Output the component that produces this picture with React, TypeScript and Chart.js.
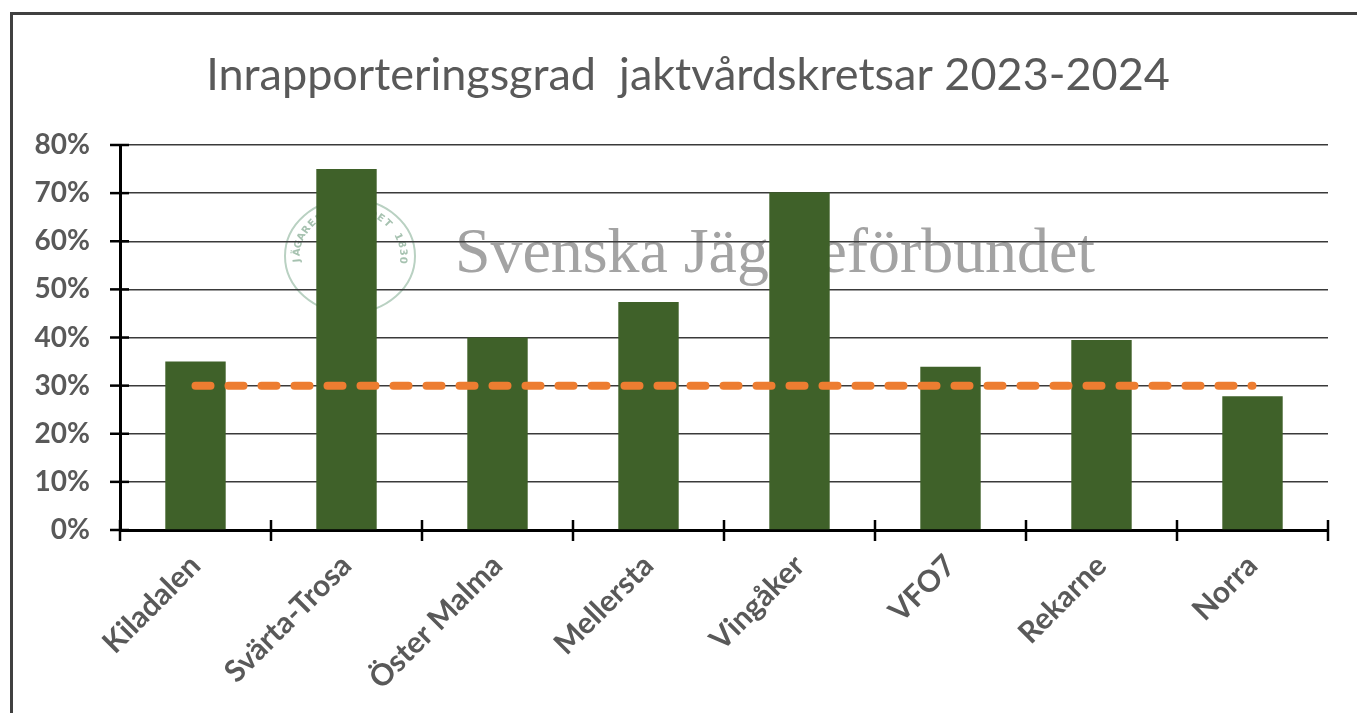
import { useEffect, useRef } from "react";
import { Chart, registerables } from "chart.js";

Chart.register(...registerables);

const categories = ["Kiladalen", "Svärta-Trosa", "Öster Malma", "Mellersta", "Vingåker", "VFO7", "Rekarne", "Norra"];
const rates = [35, 75, 40, 47.4, 70.2, 33.9, 39.5, 27.8];
const targetRate = [30, 30, 30, 30, 30, 30, 30, 30];
const yMin = 0;
const yMax = 80;
const yStep = 10;
const titleText = "Inrapporteringsgrad  jaktvårdskretsar 2023-2024";
const watermarkText = "Svenska Jägareförbundet";
const sealText = "JÄGAREFÖRBUNDET 1830";

const watermarkPlugin = {
  id: "watermark",
  beforeDraw(chart: any) {
    const ctx = chart.ctx;
    ctx.save();
    // seal
    const cx = 350, cy = 256, rx = 65, ry = 57;
    ctx.strokeStyle = "#b9d1c2";
    ctx.lineWidth = 2;
    ctx.beginPath();
    ctx.ellipse(cx, cy, rx, ry, 0, 0, Math.PI * 2);
    ctx.stroke();
    ctx.fillStyle = "#a6c2b0";
    ctx.font = "bold 10px 'DejaVu Sans'";
    ctx.textAlign = "center";
    ctx.textBaseline = "middle";
    const n = sealText.length;
    for (let i = 0; i < n; i++) {
      const a = Math.PI * 0.97 + (i / (n - 1)) * Math.PI * 1.06;
      const x = cx + (rx - 12) * Math.cos(a);
      const y = cy + (ry - 11) * Math.sin(a);
      ctx.save();
      ctx.translate(x, y);
      ctx.rotate(a + Math.PI / 2);
      ctx.fillText(sealText[i], 0, 0);
      ctx.restore();
    }
    // text
    ctx.fillStyle = "#a3a3a3";
    ctx.font = "64px 'Liberation Serif'";
    ctx.textAlign = "left";
    ctx.textBaseline = "alphabetic";
    ctx.fillText(watermarkText, 455, 272, 640);
    ctx.restore();
  },
};

const titlePlugin = {
  id: "customTitle",
  afterDraw(chart: any) {
    const ctx = chart.ctx;
    ctx.save();
    ctx.fillStyle = "#595959";
    ctx.font = "45px Lato";
    ctx.textAlign = "center";
    ctx.textBaseline = "middle";
    ctx.fillText(titleText, (48 + chart.width - 29) / 2, 75);
    ctx.restore();
  },
};

const crossTicksPlugin = {
  id: "crossTicks",
  afterDraw(chart: any) {
    const ctx = chart.ctx;
    const xs = chart.scales.x;
    const ys = chart.scales.y;
    ctx.save();
    ctx.strokeStyle = "#000";
    ctx.lineWidth = 2.5;
    ys.ticks.forEach((_t: any, i: number) => {
      const y = ys.getPixelForTick(i);
      ctx.beginPath();
      ctx.moveTo(ys.right - 10, y);
      ctx.lineTo(ys.right + 9, y);
      ctx.stroke();
    });
    for (let i = 0; i <= categories.length; i++) {
      const x = xs.getPixelForValue(i - 0.5);
      ctx.beginPath();
      ctx.moveTo(x, xs.top - 10);
      ctx.lineTo(x, xs.top + 11);
      ctx.stroke();
    }
    ctx.restore();
  },
};

export default function App() {
  const ref = useRef<HTMLCanvasElement | null>(null);
  useEffect(() => {
    if (!ref.current) return;
    const chart = new Chart(ref.current, {
      type: "bar",
      data: {
        labels: categories,
        datasets: [
          {
            type: "line",
            label: "Mål",
            data: targetRate,
            borderColor: "#ED7D31",
            backgroundColor: "#ED7D31",
            borderWidth: 8,
            borderDash: [15, 18],
            borderCapStyle: "round",
            pointRadius: 0,
            fill: false,
            tension: 0,
            order: 0,
          } as any,
          {
            type: "bar",
            label: "Inrapporteringsgrad",
            data: rates,
            backgroundColor: "#3F6129",
            barPercentage: 0.4,
            categoryPercentage: 1,
            order: 1,
          },
        ],
      },
      options: {
        animation: false,
        responsive: false,
        devicePixelRatio: 1,
        layout: { padding: { top: 145, left: 0, right: 29, bottom: 0 } },
        plugins: {
          legend: { display: false },
          tooltip: { enabled: false },
          title: { display: false },
        },
        scales: {
          x: {
            grid: { display: false, drawTicks: false },
            border: { display: true, color: "#000", width: 3 },
            ticks: {
              color: "#595959",
              font: { family: "Lato", size: 30, weight: "bold" },
              minRotation: 45,
              maxRotation: 45,
              padding: 18,
            },
            afterFit(scale: any) {
              scale.height = 183;
            },
          },
          y: {
            min: yMin,
            max: yMax,
            grid: { color: "#3a3a3a", lineWidth: 1.5, drawTicks: false },
            border: { display: true, color: "#000", width: 3 },
            ticks: {
              stepSize: yStep,
              color: "#595959",
              font: { family: "Lato", size: 28, weight: "bold" },
              padding: 30,
              callback: (v: any) => v + "%",
            },
            afterFit(scale: any) {
              scale.width = 120;
            },
          },
        },
      },
      plugins: [watermarkPlugin, titlePlugin, crossTicksPlugin],
    });
    return () => chart.destroy();
  }, []);

  return (
    <>
      <canvas
        ref={ref}
        width={1357}
        height={713}
        style={{ position: "fixed", left: 0, top: 0, width: 1357, height: 713, background: "#fff" }}
      />
      <div
        style={{
          position: "fixed",
          left: 10,
          top: 12,
          width: 1347,
          height: 701,
          borderTop: "3px solid #404040",
          borderLeft: "3px solid #404040",
          boxSizing: "border-box",
          pointerEvents: "none",
        }}
      />
    </>
  );
}
